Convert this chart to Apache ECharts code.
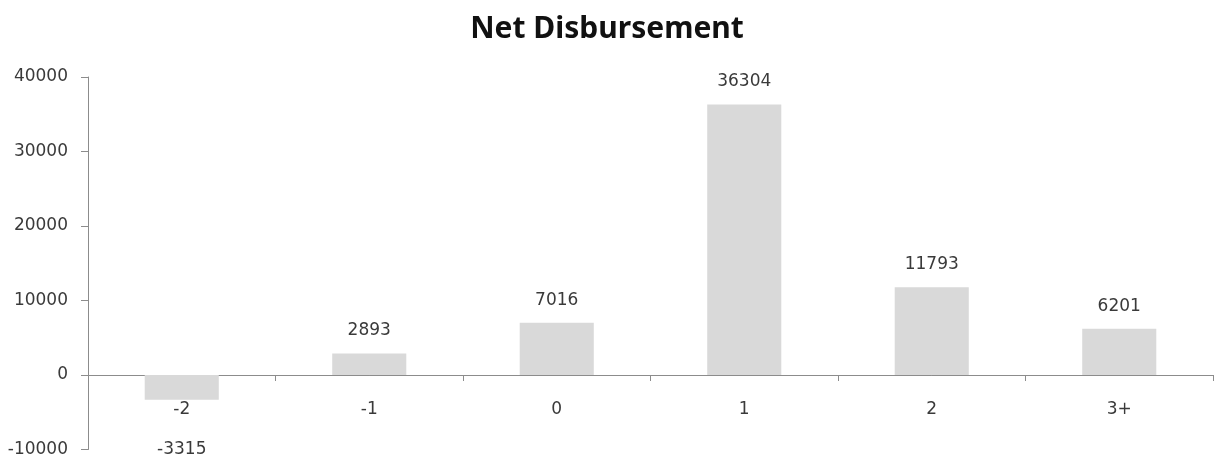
<!DOCTYPE html>
<html>
<head>
<meta charset="utf-8">
<title>Net Disbursement</title>
<script src="https://cdn.jsdelivr.net/npm/echarts@6/dist/echarts.min.js"></script>
<style>
  html, body { margin: 0; padding: 0; background: #ffffff; }
  #chart { width: 1214px; height: 464px; }
</style>
</head>
<body>
<div id="chart"></div>
<script>
// Net disbursement by period offset
const categories = ['-2', '-1', '0', '1', '2', '3+'];
const netDisbursement = [-3315, 2893, 7016, 36304, 11793, 6201];
const yTicks = { min: -10000, max: 40000, interval: 10000 };

const textFont = 'DejaVu Sans';
const textColor = '#3a3a3a';
const axisColor = '#8c8c8c';

const chart = echarts.init(document.getElementById('chart'), null, { renderer: 'canvas' });

const barData = netDisbursement.map(v => {
  const item = { value: v };
  if (v < 0) {
    // negative values put their label beneath the category name
    item.label = { position: 'bottom', distance: 41 };
  }
  return item;
});

chart.setOption({
  animation: false,
  backgroundColor: '#ffffff',
  title: {
    text: 'Net Disbursement',
    left: 'center',
    top: 9,
    textStyle: {
      fontFamily: 'Noto Sans',
      fontWeight: 'bold',
      fontSize: 30,
      color: '#111111'
    }
  },
  grid: {
    left: 88,
    right: 1,
    top: 77,
    bottom: 14.5,
    containLabel: false,
    outerBoundsMode: 'none'
  },
  xAxis: {
    type: 'category',
    data: categories,
    axisLine: { onZero: true, lineStyle: { color: axisColor, width: 1 } },
    axisTick: { show: true, alignWithLabel: false, length: 6, lineStyle: { color: axisColor } },
    axisLabel: {
      // category names sit just under the zero line
      margin: -48,
      fontFamily: textFont,
      fontSize: 17,
      color: textColor
    },
    splitLine: { show: false }
  },
  yAxis: {
    type: 'value',
    min: yTicks.min,
    max: yTicks.max,
    interval: yTicks.interval,
    axisLine: { show: true, lineStyle: { color: axisColor, width: 1 } },
    axisTick: { show: true, length: 7, lineStyle: { color: axisColor } },
    axisLabel: {
      margin: 20,
      fontFamily: textFont,
      fontSize: 17,
      color: textColor,
      formatter: v => String(v)
    },
    splitLine: { show: false }
  },
  series: [{
    type: 'bar',
    data: barData,
    barWidth: '39.5%',
    itemStyle: { color: '#d9d9d9' },
    label: {
      show: true,
      position: 'top',
      distance: 14,
      fontFamily: textFont,
      fontSize: 17,
      color: textColor
    }
  }]
});
</script>
</body>
</html>
